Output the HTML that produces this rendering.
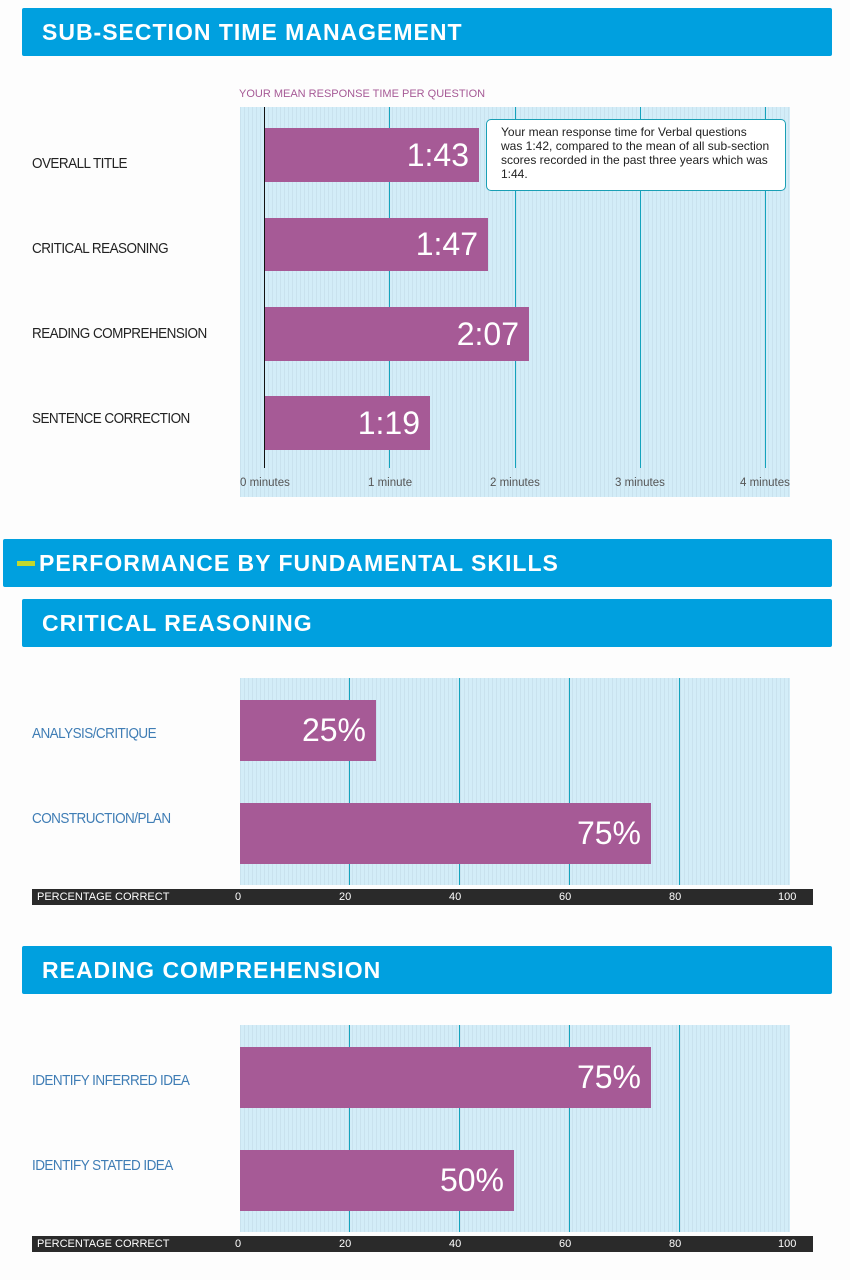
<!DOCTYPE html>
<html><head><style>
body{margin:0;width:850px;height:1280px;background:#fdfdfd;position:relative;font-family:"Liberation Sans",sans-serif;overflow:hidden}
.a{position:absolute}
.hdr{position:absolute;background:#00a0df;color:#fff;font-weight:bold;font-size:23px;letter-spacing:1px;border-radius:2px;box-sizing:border-box;padding-left:20px;display:flex;align-items:center}
.plot{position:absolute;background:#d3edf8 repeating-linear-gradient(90deg,#c9e2ee 0 1px,transparent 1px 4px)}
.gl{position:absolute;width:1px;background:#14a3bd}
.bar{position:absolute;background:#a65a96;color:#fff;font-size:32px;text-align:right;box-sizing:border-box;padding-right:10px;display:flex;align-items:center;justify-content:flex-end}
.lab{position:absolute;left:32px;font-size:15px;letter-spacing:-0.6px;color:#222;transform:scaleX(0.9);transform-origin:left center;white-space:nowrap}
.lab2{color:#3f7db5}
.tick{position:absolute;font-size:11.5px;color:#555}
.ax{position:absolute;left:32px;width:781px;height:16px;background:#2a2a2a;color:#fff;font-size:11px}
.ax span{position:absolute;top:2px}
</style></head><body>
<div class="hdr" style="left:22px;top:8px;width:810px;height:48px">SUB-SECTION TIME MANAGEMENT</div>
<div class="a" style="left:239px;top:88px;font-size:11px;color:#a65a96">YOUR MEAN RESPONSE TIME PER QUESTION</div>
<div class="plot" style="left:240px;top:107px;width:550px;height:390px"></div>
<div class="a" style="left:264px;top:107px;width:1px;height:361px;background:#111"></div>
<div class="gl" style="left:389px;top:107px;height:361px"></div>
<div class="gl" style="left:515px;top:107px;height:361px"></div>
<div class="gl" style="left:640px;top:107px;height:361px"></div>
<div class="gl" style="left:765px;top:107px;height:361px"></div>
<div class="bar" style="left:265px;top:128px;width:214px;height:54px">1:43</div>
<div class="bar" style="left:265px;top:218px;width:223px;height:53px">1:47</div>
<div class="bar" style="left:265px;top:307px;width:264px;height:54px">2:07</div>
<div class="bar" style="left:265px;top:396px;width:165px;height:54px">1:19</div>
<div class="a" style="left:486px;top:119px;width:300px;height:72px;box-sizing:border-box;background:#fff;border:1px solid #1a9fb5;border-radius:5px;padding:5px 14px;font-size:12px;line-height:14px;color:#222">Your mean response time for Verbal questions was 1:42, compared to the mean of all sub-section scores recorded in the past three years which was 1:44.</div>
<div class="lab" style="top:155px">OVERALL TITLE</div>
<div class="lab" style="top:240px">CRITICAL REASONING</div>
<div class="lab" style="top:325px">READING COMPREHENSION</div>
<div class="lab" style="top:410px">SENTENCE CORRECTION</div>
<div class="tick" style="left:240px;top:477px">0 minutes</div>
<div class="tick" style="left:368px;top:477px">1 minute</div>
<div class="tick" style="left:490px;top:477px">2 minutes</div>
<div class="tick" style="left:615px;top:477px">3 minutes</div>
<div class="tick" style="left:740px;top:477px">4 minutes</div>

<div class="hdr" style="left:3px;top:539px;width:829px;height:48px;padding-left:36px">PERFORMANCE BY FUNDAMENTAL SKILLS</div>
<div class="a" style="left:17px;top:561px;width:18px;height:5px;background:#c2d82e"></div>
<div class="hdr" style="left:22px;top:599px;width:810px;height:48px">CRITICAL REASONING</div>
<div class="plot" style="left:240px;top:678px;width:550px;height:207px"></div>
<div class="gl" style="left:349px;top:678px;height:207px"></div>
<div class="gl" style="left:459px;top:678px;height:207px"></div>
<div class="gl" style="left:569px;top:678px;height:207px"></div>
<div class="gl" style="left:679px;top:678px;height:207px"></div>
<div class="bar" style="left:240px;top:700px;width:136px;height:61px">25%</div>
<div class="bar" style="left:240px;top:803px;width:411px;height:61px">75%</div>
<div class="lab lab2" style="top:725px">ANALYSIS/CRITIQUE</div>
<div class="lab lab2" style="top:810px">CONSTRUCTION/PLAN</div>
<div class="ax" style="top:889px"><span style="left:5px">PERCENTAGE CORRECT</span><span style="left:203px">0</span><span style="left:307px">20</span><span style="left:417px">40</span><span style="left:527px">60</span><span style="left:637px">80</span><span style="left:746px">100</span></div>

<div class="hdr" style="left:22px;top:946px;width:810px;height:48px">READING COMPREHENSION</div>
<div class="plot" style="left:240px;top:1025px;width:550px;height:207px"></div>
<div class="gl" style="left:349px;top:1025px;height:207px"></div>
<div class="gl" style="left:459px;top:1025px;height:207px"></div>
<div class="gl" style="left:569px;top:1025px;height:207px"></div>
<div class="gl" style="left:679px;top:1025px;height:207px"></div>
<div class="bar" style="left:240px;top:1047px;width:411px;height:61px">75%</div>
<div class="bar" style="left:240px;top:1150px;width:274px;height:61px">50%</div>
<div class="lab lab2" style="top:1072px">IDENTIFY INFERRED IDEA</div>
<div class="lab lab2" style="top:1157px">IDENTIFY STATED IDEA</div>
<div class="ax" style="top:1236px"><span style="left:5px">PERCENTAGE CORRECT</span><span style="left:203px">0</span><span style="left:307px">20</span><span style="left:417px">40</span><span style="left:527px">60</span><span style="left:637px">80</span><span style="left:746px">100</span></div>
</body></html>
